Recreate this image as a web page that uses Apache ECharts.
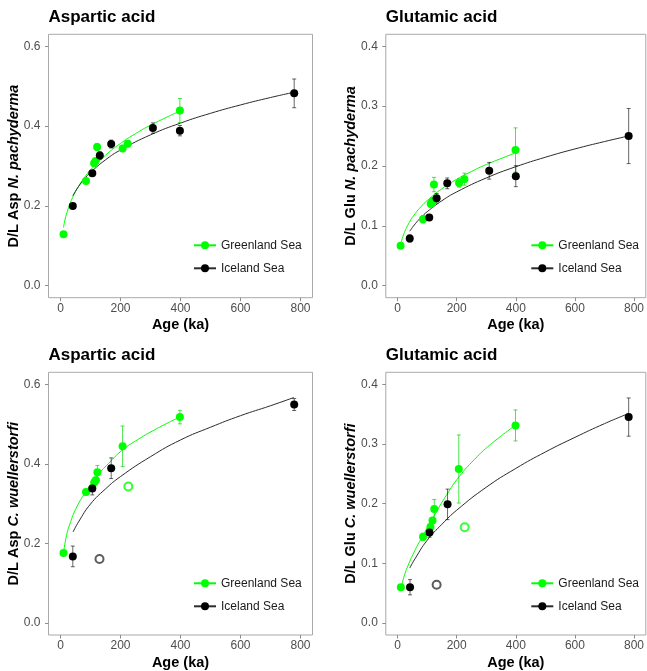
<!DOCTYPE html>
<html><head><meta charset="utf-8">
<script src="https://cdn.jsdelivr.net/npm/echarts@6/dist/echarts.min.js"></script>
<style>html,body{margin:0;padding:0;background:#fff}#c{width:647px;height:671px}</style>
</head><body><div id="c"></div>
<script>
// ---------- tick labels ----------
const xTicks = [0, 200, 400, 600, 800];
const yTicksAsp = [0, 0.2, 0.4, 0.6];
const yTicksGlu = [0, 0.1, 0.2, 0.3, 0.4];
const seriesNames = ['Greenland Sea', 'Iceland Sea'];
const panelTitles = ['Aspartic acid', 'Glutamic acid', 'Aspartic acid', 'Glutamic acid'];
const yTitlePrefix = ['D/L Asp ', 'D/L Glu ', 'D/L Asp ', 'D/L Glu '];
const yTitleSpecies = ['N. pachyderma', 'N. pachyderma', 'C. wuellerstorfi', 'C. wuellerstorfi'];

// ---------- Panel 1: Asp, N. pachyderma ----------
const p1GsAge = [10, 85, 112, 117, 122, 207, 224, 398];
const p1GsVal = [0.129, 0.2625, 0.307, 0.3125, 0.3475, 0.344, 0.356, 0.439];
const p1GsErr = [0.003, 0.006, 0.007, 0.006, 0.009, 0.008, 0.008, 0.030];
const p1IsAge = [41, 106, 131, 169, 308, 398, 779];
const p1IsVal = [0.200, 0.282, 0.326, 0.355, 0.395, 0.3885, 0.482];
const p1IsErr = [0.005, 0.005, 0.010, 0.010, 0.013, 0.013, 0.036];
const p1GsFitAge = [10, 20, 40, 60, 80, 100, 150, 200, 250, 300, 398];
const p1GsFitVal = [0.146, 0.1795, 0.2207, 0.249, 0.2712, 0.290, 0.327, 0.3565, 0.381, 0.4023, 0.4376];
const p1IsFitAge = [41, 60, 80, 100, 150, 200, 300, 400, 500, 600, 700, 780];
const p1IsFitVal = [0.225, 0.2483, 0.2677, 0.2838, 0.3154, 0.3401, 0.378, 0.4075, 0.432, 0.453, 0.4716, 0.4851];

// ---------- Panel 2: Glu, N. pachyderma ----------
const p2GsAge = [10, 86, 112, 118, 123, 208, 226, 399];
const p2GsVal = [0.0667, 0.111, 0.137, 0.1405, 0.169, 0.1717, 0.178, 0.2267];
const p2GsErr = [0.003, 0.006, 0.006, 0.007, 0.012, 0.007, 0.010, 0.037];
const p2IsAge = [41, 107, 132, 168, 310, 400, 782];
const p2IsVal = [0.079, 0.114, 0.146, 0.171, 0.192, 0.183, 0.250];
const p2IsErr = [0.006, 0.003, 0.008, 0.009, 0.014, 0.0175, 0.046];
const p2GsFitAge = [10, 20, 40, 60, 80, 100, 150, 200, 250, 300, 398];
const p2GsFitVal = [0.068, 0.085, 0.1061, 0.1208, 0.1325, 0.1423, 0.1621, 0.1778, 0.1909, 0.2024, 0.2217];
const p2IsFitAge = [41, 60, 80, 100, 150, 200, 300, 400, 500, 600, 700, 780];
const p2IsFitVal = [0.091, 0.1037, 0.1144, 0.1236, 0.142, 0.1567, 0.180, 0.1988, 0.2146, 0.2285, 0.2408, 0.250];

// ---------- Panel 3: Asp, C. wuellerstorfi ----------
const p3GsAge = [10, 85, 113, 118, 123, 207, 398];
const p3GsVal = [0.176, 0.329, 0.354, 0.359, 0.379, 0.444, 0.5175];
const p3GsErr = [0.004, 0.007, 0.010, 0.008, 0.017, 0.051, 0.017];
const p3GsOpenAge = [226];
const p3GsOpenVal = [0.343];
const p3IsAge = [41, 106, 169, 779];
const p3IsVal = [0.1675, 0.338, 0.389, 0.549];
const p3IsErr = [0.026, 0.016, 0.026, 0.015];
const p3IsOpenAge = [130];
const p3IsOpenVal = [0.161];
const p3GsFitAge = [10, 20, 30, 50, 85, 120, 160, 207, 260, 315, 398];
const p3GsFitVal = [0.176, 0.22, 0.246, 0.285, 0.331, 0.368, 0.401, 0.435, 0.462, 0.486, 0.518];
const p3IsFitAge = [42, 60, 100, 150, 200, 300, 400, 500, 600, 700, 778];
const p3IsFitVal = [0.229, 0.254, 0.299, 0.337, 0.368, 0.418, 0.460, 0.492, 0.521, 0.546, 0.5667];

// ---------- Panel 4: Glu, C. wuellerstorfi ----------
const p4GsAge = [11, 86, 111, 118, 124, 207, 399];
const p4GsVal = [0.060, 0.1444, 0.161, 0.1717, 0.191, 0.258, 0.331];
const p4GsErr = [0.004, 0.006, 0.006, 0.005, 0.016, 0.057, 0.026];
const p4GsOpenAge = [227];
const p4GsOpenVal = [0.1605];
const p4IsAge = [42, 108, 169, 782];
const p4IsVal = [0.060, 0.1517, 0.1988, 0.345];
const p4IsErr = [0.0128, 0.008, 0.0256, 0.032];
const p4IsOpenAge = [132];
const p4IsOpenVal = [0.0643];
const p4GsFitAge = [11, 20, 35, 60, 85, 125, 165, 208, 260, 314, 398];
const p4GsFitVal = [0.057, 0.075, 0.096, 0.123, 0.146, 0.181, 0.214, 0.245, 0.274, 0.299, 0.331];
const p4IsFitAge = [41, 60, 100, 150, 200, 300, 400, 500, 600, 700, 782];
const p4IsFitVal = [0.092, 0.1086, 0.1386, 0.1655, 0.189, 0.2275, 0.259, 0.2865, 0.311, 0.334, 0.351];

// ---------- build ----------
const FONT = '"Liberation Sans", Arial, Helvetica, sans-serif';
const GREEN = '#00ff00';
const GREEN_ERR = 'rgba(0,215,0,0.7)';
const BLACK = '#000000';
const BLACK_ERR = 'rgba(0,0,0,0.6)';
const FIT_BLACK = '#2b2b2b';

const panels = [
  {gs:[p1GsAge,p1GsVal,p1GsErr], is:[p1IsAge,p1IsVal,p1IsErr], gsFit:[p1GsFitAge,p1GsFitVal], isFit:[p1IsFitAge,p1IsFitVal], yTicks:yTicksAsp, ymin:-0.03, ymax:0.63},
  {gs:[p2GsAge,p2GsVal,p2GsErr], is:[p2IsAge,p2IsVal,p2IsErr], gsFit:[p2GsFitAge,p2GsFitVal], isFit:[p2IsFitAge,p2IsFitVal], yTicks:yTicksGlu, ymin:-0.02, ymax:0.42},
  {gs:[p3GsAge,p3GsVal,p3GsErr], is:[p3IsAge,p3IsVal,p3IsErr], gsFit:[p3GsFitAge,p3GsFitVal], isFit:[p3IsFitAge,p3IsFitVal], gsOpen:[p3GsOpenAge,p3GsOpenVal], isOpen:[p3IsOpenAge,p3IsOpenVal], yTicks:yTicksAsp, ymin:-0.03, ymax:0.63},
  {gs:[p4GsAge,p4GsVal,p4GsErr], is:[p4IsAge,p4IsVal,p4IsErr], gsFit:[p4GsFitAge,p4GsFitVal], isFit:[p4IsFitAge,p4IsFitVal], gsOpen:[p4GsOpenAge,p4GsOpenVal], isOpen:[p4IsOpenAge,p4IsOpenVal], yTicks:yTicksGlu, ymin:-0.02, ymax:0.42}
];

const gridPos = [
  {left:48.5, top:34.3, width:264, height:263.4},
  {left:385.8, top:34.3, width:264, height:263.4},
  {left:48.5, top:372.3, width:264, height:263.4},
  {left:385.8, top:372.3, width:264, height:263.4}
];

const zip = (a, b) => a.map((v, i) => [v, b[i]]);
const zip3 = (a, b, c) => a.map((v, i) => [v, b[i], c[i]]);

function errRender(color) {
  return function (params, api) {
    const x = api.value(0), y = api.value(1), e = api.value(2);
    const t = api.coord([x, y + e]);
    const b = api.coord([x, y - e]);
    const w = 2;
    const st = {stroke: color, lineWidth: 1};
    return {type: 'group', children: [
      {type: 'line', shape: {x1: t[0], y1: t[1], x2: b[0], y2: b[1]}, style: st},
      {type: 'line', shape: {x1: t[0] - w, y1: t[1], x2: t[0] + w, y2: t[1]}, style: st},
      {type: 'line', shape: {x1: b[0] - w, y1: b[1], x2: b[0] + w, y2: b[1]}, style: st}
    ]};
  };
}

const grid = [], xAxis = [], yAxis = [], series = [], title = [], legend = [];
panels.forEach((p, i) => {
  grid.push(Object.assign({show: true, borderColor: '#a9a9a9', borderWidth: 1, backgroundColor: '#fff', containLabel: false}, gridPos[i]));
  xAxis.push({
    type: 'value', gridIndex: i, min: -40, max: 840, position: 'bottom',
    name: 'Age (ka)', nameLocation: 'middle', nameGap: 20, nameMoveOverlap: false,
    nameTextStyle: {fontFamily: FONT, fontWeight: 'bold', fontSize: 14.5, color: '#000'},
    axisLine: {show: false, onZero: false},
    axisTick: {show: true, inside: false, length: 3.5, customValues: xTicks, lineStyle: {color: '#8c8c8c'}},
    axisLabel: {customValues: xTicks, margin: 5, fontFamily: FONT, fontSize: 12, color: '#4d4d4d'},
    splitLine: {show: false}
  });
  yAxis.push({
    type: 'value', gridIndex: i, min: p.ymin, max: p.ymax, position: 'left',
    name: '{b|' + yTitlePrefix[i] + '}{bi|' + yTitleSpecies[i] + '}',
    nameLocation: 'middle', nameGap: 27, nameMoveOverlap: false,
    nameTextStyle: {fontFamily: FONT, fontSize: 14.5, color: '#000', rich: {
      b: {fontFamily: FONT, fontWeight: 'bold', fontSize: 14.5, color: '#000'},
      bi: {fontFamily: FONT, fontWeight: 'bold', fontStyle: 'italic', fontSize: 14.5, color: '#000'}
    }},
    axisLine: {show: false, onZero: false},
    axisTick: {show: true, inside: false, length: 3.5, customValues: p.yTicks, lineStyle: {color: '#8c8c8c'}},
    axisLabel: {customValues: p.yTicks, margin: 8, fontFamily: FONT, fontSize: 12, color: '#4d4d4d', formatter: v => v.toFixed(1)},
    splitLine: {show: false}
  });
  title.push({
    text: panelTitles[i], left: gridPos[i].left, top: gridPos[i].top - 25.5, padding: 0,
    textStyle: {fontFamily: FONT, fontWeight: 'bold', fontSize: 17, color: '#000'}
  });
  legend.push({
    data: seriesNames, orient: 'vertical',
    left: gridPos[i].left + 144.5, top: gridPos[i].top + 205,
    itemWidth: 22, itemHeight: 10, itemGap: 11, padding: 0,
    textStyle: {fontFamily: FONT, fontSize: 12, color: '#1a1a1a'},
    selectedMode: false
  });
  // fitted curves
  series.push({type: 'line', name: seriesNames[0], xAxisIndex: i, yAxisIndex: i, data: zip(p.gsFit[0], p.gsFit[1]),
    smooth: true, showSymbol: false, symbol: 'circle', symbolSize: 8, itemStyle: {color: GREEN},
    lineStyle: {color: GREEN, width: 1}, z: 2, silent: true});
  series.push({type: 'line', name: seriesNames[1], xAxisIndex: i, yAxisIndex: i, data: zip(p.isFit[0], p.isFit[1]),
    smooth: true, showSymbol: false, symbol: 'circle', symbolSize: 8, itemStyle: {color: BLACK},
    lineStyle: {color: FIT_BLACK, width: 1}, z: 2, silent: true});
  // error bars
  series.push({type: 'custom', name: seriesNames[0], xAxisIndex: i, yAxisIndex: i, data: zip3(p.gs[0], p.gs[1], p.gs[2]),
    renderItem: errRender(GREEN_ERR), encode: {x: 0, y: 1}, clip: false, z: 3, silent: true});
  series.push({type: 'custom', name: seriesNames[1], xAxisIndex: i, yAxisIndex: i, data: zip3(p.is[0], p.is[1], p.is[2]),
    renderItem: errRender(BLACK_ERR), encode: {x: 0, y: 1}, clip: false, z: 3, silent: true});
  // points
  series.push({type: 'scatter', name: seriesNames[0], xAxisIndex: i, yAxisIndex: i, data: zip(p.gs[0], p.gs[1]),
    symbol: 'circle', symbolSize: 8, itemStyle: {color: GREEN, opacity: 1}, z: 4, silent: true});
  series.push({type: 'scatter', name: seriesNames[1], xAxisIndex: i, yAxisIndex: i, data: zip(p.is[0], p.is[1]),
    symbol: 'circle', symbolSize: 8, itemStyle: {color: BLACK, opacity: 1}, z: 4, silent: true});
  if (p.gsOpen) {
    series.push({type: 'scatter', name: 'GS excluded', xAxisIndex: i, yAxisIndex: i, data: zip(p.gsOpen[0], p.gsOpen[1]),
      symbol: 'emptyCircle', symbolSize: 8, itemStyle: {color: GREEN, borderColor: GREEN, borderWidth: 1}, z: 4, silent: true});
    series.push({type: 'scatter', name: 'IS excluded', xAxisIndex: i, yAxisIndex: i, data: zip(p.isOpen[0], p.isOpen[1]),
      symbol: 'emptyCircle', symbolSize: 8, itemStyle: {color: '#333', borderColor: '#333', borderWidth: 1}, z: 4, silent: true});
  }
});

const chart = echarts.init(document.getElementById('c'), null, {renderer: 'canvas'});
chart.setOption({animation: false, backgroundColor: '#fff', title, legend, grid, xAxis, yAxis, series});
</script>
</body></html>
